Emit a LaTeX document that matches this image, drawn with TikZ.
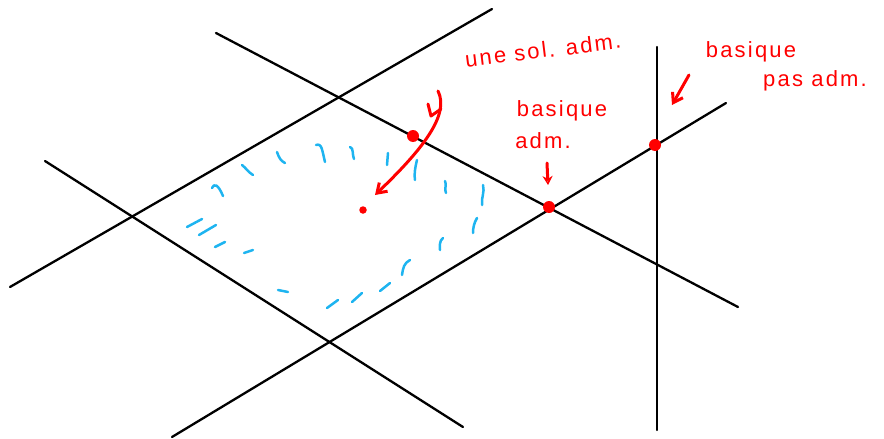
\documentclass[tikz,border=0pt]{standalone}
\usepackage{fontspec}
\setmainfont{Liberation Sans}
\newfontfamily\handfont[LetterSpace=10]{Liberation Sans}
\usetikzlibrary{arrows.meta}
\definecolor{penred}{RGB}{255,0,0}
\definecolor{penblue}{RGB}{30,180,240}
\tikzset{
  blackline/.style={line width=2.3pt, black, line cap=round},
  redpen/.style={line width=3pt, penred, line cap=round, line join=round},
  bluepen/.style={line width=2.5pt, penblue, line cap=round, line join=round},
  reddot/.style={circle, fill=penred, inner sep=0pt, minimum size=12pt},
  smalldot/.style={circle, fill=penred, inner sep=0pt, minimum size=7.5pt},
  hand/.style={text=penred, font=\handfont\fontsize{22}{25}\selectfont, inner sep=0pt}
}
\begin{document}
\begin{tikzpicture}[x=1pt,y=-1pt]
\useasboundingbox (0,0) rectangle (884,439);
% black lines
\coordinate (l1a) at (216,33);  \coordinate (l1b) at (738,307);
\coordinate (l2a) at (492,9);   \coordinate (l2b) at (10,287);
\coordinate (l3a) at (45,161);  \coordinate (l3b) at (463,427);
\coordinate (l4a) at (172,437); \coordinate (l4b) at (726,103);
\coordinate (l5a) at (657,47);  \coordinate (l5b) at (657,430);
\draw[blackline] (l1a) -- (l1b);
\draw[blackline] (l2a) -- (l2b);
\draw[blackline] (l3a) -- (l3b);
\draw[blackline] (l4a) -- (l4b);
\draw[blackline] (l5a) -- (l5b);
% blue hatching
\draw[bluepen] (212,188) .. controls (214,183) and (218,184) .. (223,196);
\draw[bluepen] (242,165) .. controls (246,168) and (248,172) .. (253,175);
\draw[bluepen] (277,152) .. controls (279,158) and (281,161) .. (285,163);
\draw[bluepen] (316,145) .. controls (322,143) and (322,150) .. (325,162);
\draw[bluepen] (350,147) .. controls (354,148) and (352,155) .. (354,159);
\draw[bluepen] (388,153) -- (387,165);
\draw[bluepen] (417,160) .. controls (415,168) and (414,175) .. (415,180);
\draw[bluepen] (445,181) .. controls (447,185) and (444,189) .. (446,193);
\draw[bluepen] (483,185) .. controls (485,192) and (481,198) .. (482,205);
\draw[bluepen] (477,218) .. controls (474,223) and (473,228) .. (473,233);
\draw[bluepen] (443,238) .. controls (439,241) and (440,246) .. (440,250);
\draw[bluepen] (410,260) .. controls (404,263) and (403,268) .. (402,275);
\draw[bluepen] (390,283) -- (380,291);
\draw[bluepen] (362,293) -- (352,302);
\draw[bluepen] (338,300) -- (327,308);
\draw[bluepen] (278,290) -- (288,292);
\draw[bluepen] (244,253) -- (253,250);
\draw[bluepen] (215,247) -- (225,242);
\draw[bluepen] (199,235) -- (216,225);
\draw[bluepen] (187,227) -- (202,219);
% red points
\node[reddot] (p1) at (413,136) {};
\node[reddot] (p2) at (549,207) {};
\node[reddot] (p3) at (655,145) {};
\node[smalldot] (p0) at (363,210) {};
% labels
\node[hand, rotate=7] (t1) at (543,50) {une sol. adm.};
\node[hand] (t2a) at (562,111) {basique};
\node[hand] (t2b) at (543,141) {adm.};
\node[hand] (t3a) at (751,52) {basique};
\node[hand] (t3b) at (815,81) {pas adm.};
% arrows
\coordinate (c1s) at (438,91);
\coordinate (c1e) at (375,195);
\draw[redpen, -{Straight Barb[length=9pt,width=12pt]}] (c1s) .. controls (450,115) and (422,150) .. (c1e);
\draw[redpen] (428,104) -- (431,116) -- (441,109);
\coordinate (c2s) at (547,163);
\coordinate (c2e) at (548,185);
\draw[redpen, -{Stealth[open,length=9pt,width=10pt]}] (c2s) -- (c2e);
\coordinate (c3s) at (689,75);
\coordinate (c3e) at (672,105);
\draw[redpen, -{Straight Barb[length=9pt,width=12pt]}] (c3s) -- (c3e);
\end{tikzpicture}
\end{document}
